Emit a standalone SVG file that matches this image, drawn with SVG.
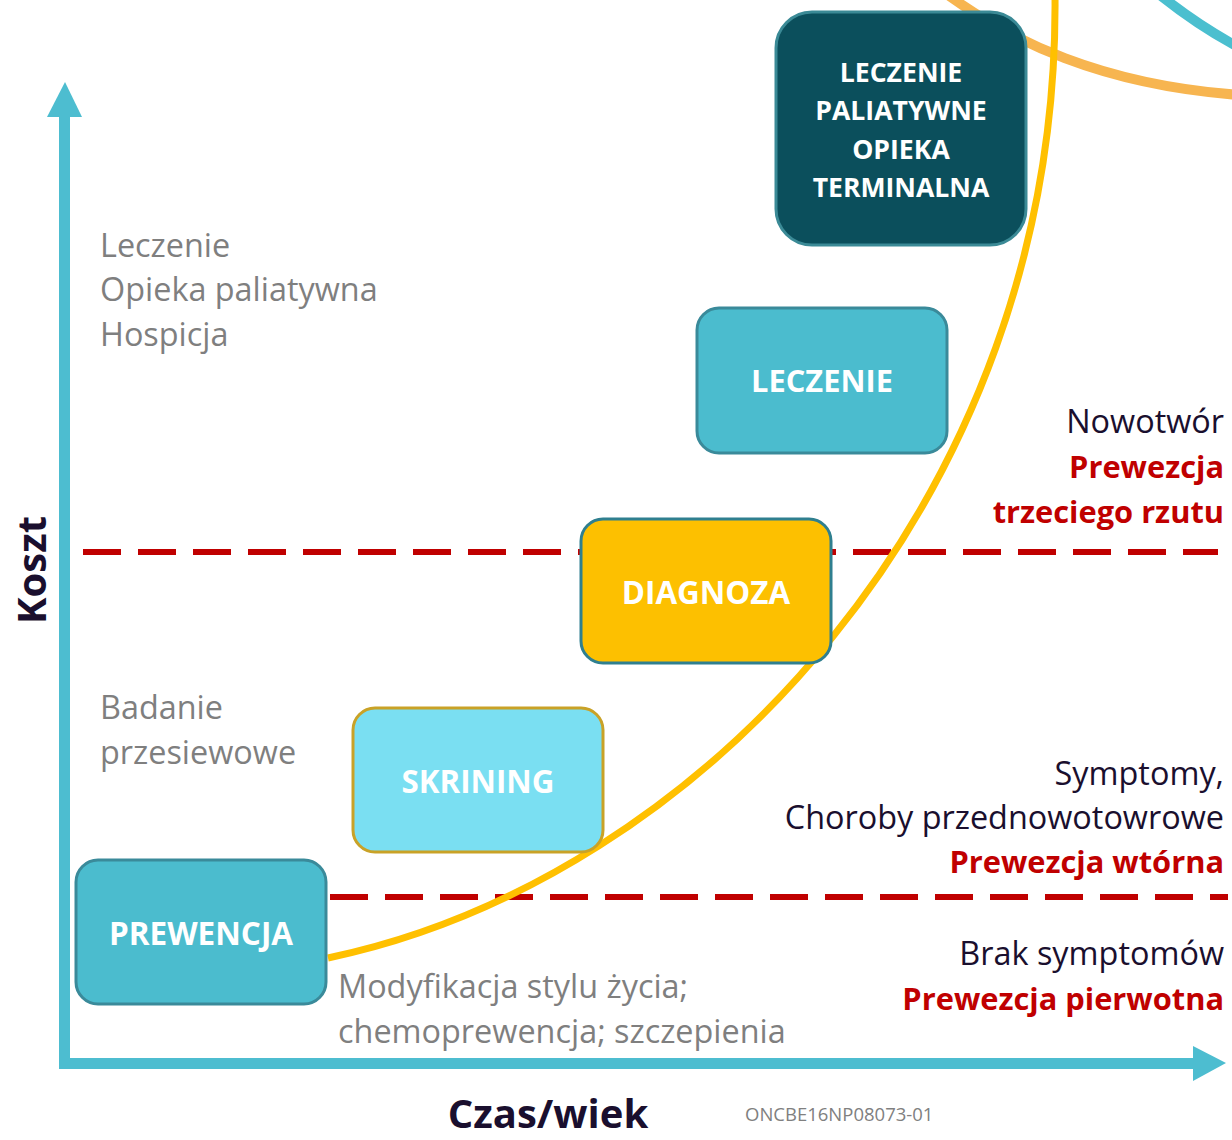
<svg xmlns="http://www.w3.org/2000/svg" width="1232" height="1140" viewBox="0 0 1232 1140">
<style>
.box{stroke-width:3}
.bt{font-family:"Open Sans","Liberation Sans",sans-serif;font-weight:bold;fill:#fff;text-anchor:middle}
.gray{font-family:"Open Sans","Liberation Sans",sans-serif;fill:#7f7f7f;font-size:32.4px}
.dark{font-family:"Open Sans","Liberation Sans",sans-serif;fill:#1a0f2e;font-size:32.4px;text-anchor:end}
.red{font-family:"Open Sans","Liberation Sans",sans-serif;fill:#c00000;font-size:30.8px;font-weight:bold;text-anchor:end}
.dash{stroke:#c00000;stroke-width:6;stroke-dasharray:38 17;fill:none}
</style>
<rect width="1232" height="1140" fill="#fff"/>
<g id="bg-curves" fill="none">
<path d="M948,-5 C1010,40 1100,85 1240,95" stroke="#f7b550" stroke-width="10"/>
<path d="M1160,-5 C1185,15 1210,32 1240,48" stroke="#4bbfcf" stroke-width="10"/>
</g>
<g id="connectors">
<path class="dash" d="M83,552 H1218"/>
<path class="dash" d="M330,897 H1228"/>
<path d="M328,958 C700,880 1060,500 1055,-5" fill="none" stroke="#ffc000" stroke-width="7"/>
<g id="axes" fill="#4dbdd0">
<rect x="59" y="112" width="11" height="957"/>
<polygon points="47,117 82,117 65,82"/>
<rect x="59" y="1058" width="1140" height="11"/>
<polygon points="1193,1046 1193,1081 1226,1063"/>
</g>
</g>
<g id="node-paliatywne">
<rect class="box" x="776" y="12" width="250" height="233" rx="36" fill="#0b4f5c" stroke="#3b8a96"/>
<text class="bt" font-size="26.6"><tspan x="901" y="82">LECZENIE</tspan><tspan x="901" y="120">PALIATYWNE</tspan><tspan x="901" y="159">OPIEKA</tspan><tspan x="901" y="197">TERMINALNA</tspan></text>
</g>
<g id="node-leczenie">
<rect class="box" x="697" y="308" width="250" height="145" rx="22" fill="#4bbcce" stroke="#3a8a9a"/>
<text class="bt" font-size="30.8" x="822" y="392">LECZENIE</text>
</g>
<g id="node-diagnoza">
<rect class="box" x="581" y="519" width="250" height="144" rx="22" fill="#fdc000" stroke="#2f7f8f"/>
<text class="bt" font-size="31.4" x="706" y="604">DIAGNOZA</text>
</g>
<g id="node-skrining">
<rect class="box" x="353" y="708" width="250" height="144" rx="22" fill="#7adff2" stroke="#c9a227"/>
<text class="bt" font-size="31.3" x="478" y="793">SKRINING</text>
</g>
<g id="node-prewencja">
<rect class="box" x="76" y="860" width="250" height="144" rx="22" fill="#4bbcce" stroke="#3a8a9a"/>
<text class="bt" font-size="31.5" x="201" y="945">PREWENCJA</text>
</g>
<g id="labels">
<text class="gray"><tspan x="100" y="257">Leczenie</tspan><tspan x="100" y="301">Opieka paliatywna</tspan><tspan x="100" y="346">Hospicja</tspan></text>
<text class="gray"><tspan x="100" y="719">Badanie</tspan><tspan x="100" y="764">przesiewowe</tspan></text>
<text class="gray"><tspan x="338" y="998">Modyfikacja stylu życia;</tspan><tspan x="338" y="1043">chemoprewencja; szczepienia</tspan></text>
<text class="dark" x="1224" y="433">Nowotwór</text>
<text class="red"><tspan x="1224" y="478">Prewezcja</tspan><tspan x="1224" y="523">trzeciego rzutu</tspan></text>
<text class="dark"><tspan x="1224" y="785">Symptomy,</tspan><tspan x="1224" y="829">Choroby przednowotowrowe</tspan></text>
<text class="red" x="1224" y="873">Prewezcja wtórna</text>
<text class="dark" x="1224" y="965">Brak symptomów</text>
<text class="red" x="1224" y="1010">Prewezcja pierwotna</text>
<text font-family="'Open Sans','Liberation Sans',sans-serif" font-weight="bold" font-size="40" fill="#1a0f2e" text-anchor="middle" transform="translate(46,570) rotate(-90)">Koszt</text>
<text font-family="'Open Sans','Liberation Sans',sans-serif" font-weight="bold" font-size="40" fill="#1a0f2e" text-anchor="middle" x="548" y="1128">Czas/wiek</text>
<text font-family="'Open Sans','Liberation Sans',sans-serif" font-size="18.5" fill="#808080" x="745" y="1121">ONCBE16NP08073-01</text>
</g>
</svg>
